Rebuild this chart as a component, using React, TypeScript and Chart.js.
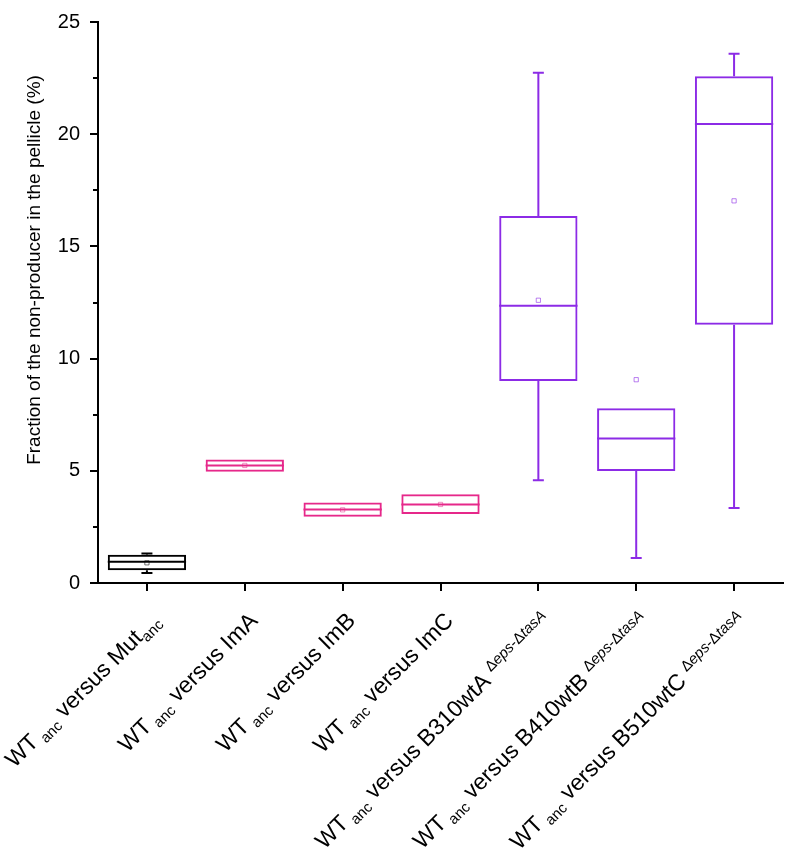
import React, { useEffect, useRef } from 'react';
import { Chart, registerables } from 'chart.js';

Chart.register(...registerables);

// ---- data ----
const categories = [
  'WT anc versus Mut anc',
  'WT anc versus ImA',
  'WT anc versus ImB',
  'WT anc versus ImC',
  'WT anc versus B310wtA Δeps-ΔtasA',
  'WT anc versus B410wtB Δeps-ΔtasA',
  'WT anc versus B510wtC Δeps-ΔtasA',
];

type Part = [string, 'n' | 'sub' | 'sup' | 'supi'];
const sup: Part[] = [['Δ', 'sup'], ['eps', 'supi'], ['-Δ', 'sup'], ['tasA', 'supi']];
const labelParts: Part[][] = [
  [['WT', 'n'], [' anc', 'sub'], [' versus Mut', 'n'], ['anc', 'sub']],
  [['WT', 'n'], [' anc', 'sub'], [' versus ImA', 'n']],
  [['WT', 'n'], [' anc', 'sub'], [' versus ImB', 'n']],
  [['WT', 'n'], [' anc', 'sub'], [' versus ImC', 'n']],
  [['WT', 'n'], [' anc', 'sub'], [' versus B310wtA ', 'n'], ...sup],
  [['WT', 'n'], [' anc', 'sub'], [' versus B410wtB ', 'n'], ...sup],
  [['WT', 'n'], [' anc', 'sub'], [' versus B510wtC ', 'n'], ...sup],
];

const q1 = [0.57, 4.96, 2.95, 3.08, 9.0, 4.99, 11.51];
const q3 = [1.26, 5.5, 3.59, 3.95, 16.36, 7.79, 22.58];
const median = [0.95, 5.24, 3.28, 3.5, 12.35, 6.44, 20.46];
const mean = [0.9, 5.24, 3.26, 3.5, 12.6, 9.06, 17.03];
const whiskerLow = [0.45, 4.96, 2.95, 3.08, 4.58, 1.11, 3.34];
const whiskerHigh = [1.31, 5.5, 3.59, 3.95, 22.74, 7.79, 23.58];

const yTicks = [0, 5, 10, 15, 20, 25];
const yMinorTicks = [2.5, 7.5, 12.5, 17.5, 22.5];
const yTitle = 'Fraction of the non-producer in the pellicle (%)';

const BLACK = '#000000';
const PINK = '#E6288A';
const PURPLE = '#8C2BE6';
const boxColors = [BLACK, PINK, PINK, PINK, PURPLE, PURPLE, PURPLE];
const meanColors = ['rgba(0,0,0,0.55)', 'rgba(230,40,138,0.5)', 'rgba(230,40,138,0.5)', 'rgba(230,40,138,0.5)', 'rgba(140,43,230,0.6)', 'rgba(140,43,230,0.6)', 'rgba(140,43,230,0.6)'];

const FONT = '"Liberation Sans", Arial, Helvetica, sans-serif';

function fontFor(k: string) {
  if (k === 'n') return `23px ${FONT}`;
  if (k === 'sub') return `15px ${FONT}`;
  if (k === 'supi') return `italic 15px ${FONT}`;
  return `15px ${FONT}`;
}
function offsetFor(k: string) {
  if (k === 'sub') return 5;
  if (k === 'sup' || k === 'supi') return -8;
  return 0;
}

const boxPlugin = {
  id: 'boxExtras',
  afterDatasetsDraw(chart: any) {
    const { ctx, scales } = chart;
    const x = scales.x;
    const y = scales.y;
    const half = 5.5;
    const boxHalf = (x.getPixelForValue(1) - x.getPixelForValue(0)) * 0.4;
    ctx.save();
    ctx.lineWidth = 2;
    for (let i = 0; i < categories.length; i++) {
      const cx = x.getPixelForValue(i);
      ctx.strokeStyle = boxColors[i];
      const ym = y.getPixelForValue(median[i]);
      ctx.beginPath();
      ctx.moveTo(cx - boxHalf, ym);
      ctx.lineTo(cx + boxHalf, ym);
      ctx.stroke();
      const yq1 = y.getPixelForValue(q1[i]);
      const yq3 = y.getPixelForValue(q3[i]);
      const ylo = y.getPixelForValue(whiskerLow[i]);
      const yhi = y.getPixelForValue(whiskerHigh[i]);
      if (whiskerHigh[i] > q3[i]) {
        ctx.beginPath();
        ctx.moveTo(cx, yq3);
        ctx.lineTo(cx, yhi);
        ctx.moveTo(cx - half, yhi);
        ctx.lineTo(cx + half, yhi);
        ctx.stroke();
      }
      if (whiskerLow[i] < q1[i]) {
        ctx.beginPath();
        ctx.moveTo(cx, yq1);
        ctx.lineTo(cx, ylo);
        ctx.moveTo(cx - half, ylo);
        ctx.lineTo(cx + half, ylo);
        ctx.stroke();
      }
    }
    ctx.restore();
  },
  afterDraw(chart: any) {
    const { ctx, scales } = chart;
    const x = scales.x;
    const y = scales.y;
    ctx.save();
    ctx.strokeStyle = '#000';
    ctx.lineWidth = 2;
    for (const v of yMinorTicks) {
      const py = Math.round(y.getPixelForValue(v));
      ctx.beginPath();
      ctx.moveTo(y.right - 5, py);
      ctx.lineTo(y.right, py);
      ctx.stroke();
    }
    ctx.fillStyle = '#000';
    ctx.textAlign = 'left';
    ctx.textBaseline = 'alphabetic';
    for (let i = 0; i < labelParts.length; i++) {
      const parts = labelParts[i];
      const tx = x.getPixelForValue(i) + 14;
      const ty = x.top + 39;
      ctx.save();
      ctx.translate(tx, ty);
      ctx.rotate(-Math.PI / 4);
      const widths = parts.map(([t, k]) => {
        ctx.font = fontFor(k);
        return ctx.measureText(t).width;
      });
      let cur = -widths.reduce((a, b) => a + b, 0);
      parts.forEach(([t, k], j) => {
        ctx.font = fontFor(k);
        ctx.fillText(t, cur, offsetFor(k));
        cur += widths[j];
      });
      ctx.restore();
    }
    ctx.save();
    ctx.translate(35, 270);
    ctx.rotate(-Math.PI / 2);
    ctx.font = `19px ${FONT}`;
    ctx.textAlign = 'center';
    ctx.textBaseline = 'middle';
    ctx.fillText(yTitle, 0, 0);
    ctx.restore();
    ctx.restore();
  },
};

export default function App() {
  const ref = useRef<HTMLCanvasElement | null>(null);
  useEffect(() => {
    if (!ref.current) return;
    const chart = new Chart(ref.current, {
      type: 'bar',
      data: {
        labels: categories,
        datasets: [
          {
            type: 'bar',
            data: q1.map((v, i) => [v, q3[i]]) as any,
            backgroundColor: 'rgba(0,0,0,0)',
            borderColor: boxColors,
            borderWidth: 2,
            borderSkipped: false,
            barPercentage: 0.8,
            categoryPercentage: 1,
          },
          {
            type: 'line',
            data: mean,
            showLine: false,
            pointStyle: 'rect',
            pointRadius: 3,
            pointBorderWidth: 1,
            pointBorderColor: meanColors,
            pointBackgroundColor: 'rgba(0,0,0,0)',
          } as any,
        ],
      },
      plugins: [boxPlugin],
      options: {
        responsive: true,
        maintainAspectRatio: false,
        animation: false,
        layout: { padding: { top: 12, right: 4, left: 0, bottom: 0 } },
        plugins: { legend: { display: false }, tooltip: { enabled: false } },
        scales: {
          x: {
            type: 'category',
            offset: true,
            grid: { offset: false, drawOnChartArea: false, drawTicks: true, tickLength: 8, color: '#000', lineWidth: 2 },
            border: { display: true, color: '#000', width: 2 },
            ticks: { callback: () => '', maxRotation: 0 },
            afterFit: (s: any) => { s.height = 275; },
          },
          y: {
            min: 0,
            max: 25,
            afterBuildTicks: (s: any) => { s.ticks = yTicks.map((v) => ({ value: v })); },
            grid: { drawOnChartArea: false, drawTicks: true, tickLength: 8, color: '#000', lineWidth: 2 },
            border: { display: true, color: '#000', width: 2 },
            ticks: { color: '#000', font: { family: FONT, size: 20 }, padding: 10 },
            afterFit: (s: any) => { s.width = 98; },
          },
        },
      },
    });
    return () => chart.destroy();
  }, []);
  return (
    <div style={{ position: 'fixed', left: 0, top: 0, width: 788, height: 858, background: '#fff' }}>
      <canvas ref={ref} />
    </div>
  );
}
